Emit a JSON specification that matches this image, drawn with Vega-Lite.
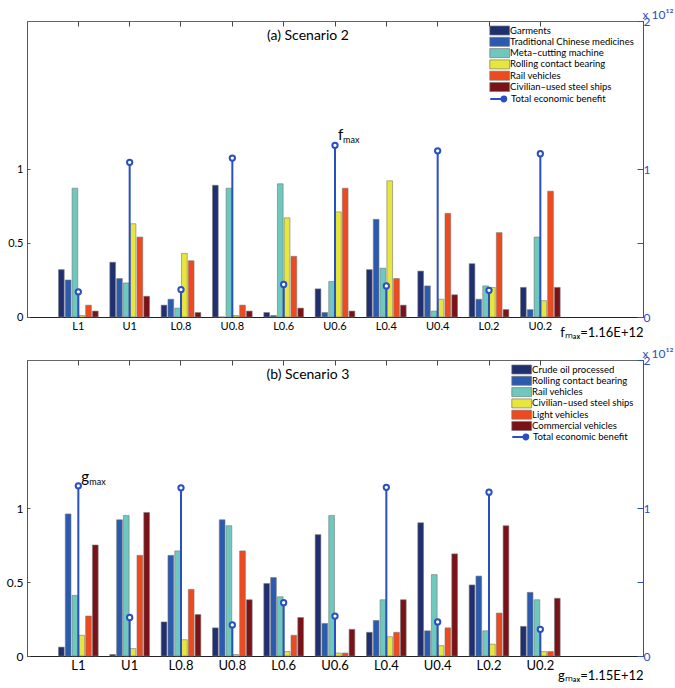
{
  "$schema": "https://vega.github.io/schema/vega-lite/v6.json",
  "background": "white",
  "padding": {"left": 5, "top": 7, "right": 5, "bottom": 3},
  "config": {
    "font": "Lato",
    "view": {"stroke": "#666", "strokeWidth": 1},
    "axis": {"grid": false, "labelFont": "Lato", "labelFontSize": 11, "labelColor": "black", "domainColor": "#555", "tickColor": "#555", "titleFont": "Lato", "titleFontWeight": "normal"},
    "legend": {"labelFont": "Lato", "labelFontSize": 9.5, "labelColor": "black", "padding": 0, "rowPadding": -0.7, "labelOffset": 5.4, "symbolStrokeWidth": 0.7}
  },
  "datasets": {
    "bars2": [
      {"cat": "L1", "series": "Garments", "value": 0.32},
      {"cat": "L1", "series": "Traditional Chinese medicines", "value": 0.25},
      {"cat": "L1", "series": "Meta–cutting machine", "value": 0.87},
      {"cat": "L1", "series": "Rolling contact bearing", "value": 0.01},
      {"cat": "L1", "series": "Rail vehicles", "value": 0.08},
      {"cat": "L1", "series": "Civilian–used steel ships", "value": 0.04},
      {"cat": "U1", "series": "Garments", "value": 0.37},
      {"cat": "U1", "series": "Traditional Chinese medicines", "value": 0.26},
      {"cat": "U1", "series": "Meta–cutting machine", "value": 0.23},
      {"cat": "U1", "series": "Rolling contact bearing", "value": 0.63},
      {"cat": "U1", "series": "Rail vehicles", "value": 0.54},
      {"cat": "U1", "series": "Civilian–used steel ships", "value": 0.14},
      {"cat": "L0.8", "series": "Garments", "value": 0.08},
      {"cat": "L0.8", "series": "Traditional Chinese medicines", "value": 0.12},
      {"cat": "L0.8", "series": "Meta–cutting machine", "value": 0.06},
      {"cat": "L0.8", "series": "Rolling contact bearing", "value": 0.43},
      {"cat": "L0.8", "series": "Rail vehicles", "value": 0.38},
      {"cat": "L0.8", "series": "Civilian–used steel ships", "value": 0.03},
      {"cat": "U0.8", "series": "Garments", "value": 0.89},
      {"cat": "U0.8", "series": "Traditional Chinese medicines", "value": 0},
      {"cat": "U0.8", "series": "Meta–cutting machine", "value": 0.87},
      {"cat": "U0.8", "series": "Rolling contact bearing", "value": 0.01},
      {"cat": "U0.8", "series": "Rail vehicles", "value": 0.08},
      {"cat": "U0.8", "series": "Civilian–used steel ships", "value": 0.04},
      {"cat": "L0.6", "series": "Garments", "value": 0.03},
      {"cat": "L0.6", "series": "Traditional Chinese medicines", "value": 0.01},
      {"cat": "L0.6", "series": "Meta–cutting machine", "value": 0.9},
      {"cat": "L0.6", "series": "Rolling contact bearing", "value": 0.67},
      {"cat": "L0.6", "series": "Rail vehicles", "value": 0.41},
      {"cat": "L0.6", "series": "Civilian–used steel ships", "value": 0.06},
      {"cat": "U0.6", "series": "Garments", "value": 0.19},
      {"cat": "U0.6", "series": "Traditional Chinese medicines", "value": 0.03},
      {"cat": "U0.6", "series": "Meta–cutting machine", "value": 0.24},
      {"cat": "U0.6", "series": "Rolling contact bearing", "value": 0.71},
      {"cat": "U0.6", "series": "Rail vehicles", "value": 0.87},
      {"cat": "U0.6", "series": "Civilian–used steel ships", "value": 0.04},
      {"cat": "L0.4", "series": "Garments", "value": 0.32},
      {"cat": "L0.4", "series": "Traditional Chinese medicines", "value": 0.66},
      {"cat": "L0.4", "series": "Meta–cutting machine", "value": 0.33},
      {"cat": "L0.4", "series": "Rolling contact bearing", "value": 0.92},
      {"cat": "L0.4", "series": "Rail vehicles", "value": 0.26},
      {"cat": "L0.4", "series": "Civilian–used steel ships", "value": 0.08},
      {"cat": "U0.4", "series": "Garments", "value": 0.31},
      {"cat": "U0.4", "series": "Traditional Chinese medicines", "value": 0.21},
      {"cat": "U0.4", "series": "Meta–cutting machine", "value": 0.04},
      {"cat": "U0.4", "series": "Rolling contact bearing", "value": 0.12},
      {"cat": "U0.4", "series": "Rail vehicles", "value": 0.7},
      {"cat": "U0.4", "series": "Civilian–used steel ships", "value": 0.15},
      {"cat": "L0.2", "series": "Garments", "value": 0.36},
      {"cat": "L0.2", "series": "Traditional Chinese medicines", "value": 0.12},
      {"cat": "L0.2", "series": "Meta–cutting machine", "value": 0.21},
      {"cat": "L0.2", "series": "Rolling contact bearing", "value": 0.2},
      {"cat": "L0.2", "series": "Rail vehicles", "value": 0.57},
      {"cat": "L0.2", "series": "Civilian–used steel ships", "value": 0.05},
      {"cat": "U0.2", "series": "Garments", "value": 0.2},
      {"cat": "U0.2", "series": "Traditional Chinese medicines", "value": 0.05},
      {"cat": "U0.2", "series": "Meta–cutting machine", "value": 0.54},
      {"cat": "U0.2", "series": "Rolling contact bearing", "value": 0.11},
      {"cat": "U0.2", "series": "Rail vehicles", "value": 0.85},
      {"cat": "U0.2", "series": "Civilian–used steel ships", "value": 0.2}
    ],
    "tot2": [
      {"cat": "L1", "total": 0.17, "sym": null},
      {"cat": "U1", "total": 1.045, "sym": null},
      {"cat": "L0.8", "total": 0.185, "sym": null},
      {"cat": "U0.8", "total": 1.074, "sym": null},
      {"cat": "L0.6", "total": 0.22, "sym": null},
      {"cat": "U0.6", "total": 1.16, "sym": "f"},
      {"cat": "L0.4", "total": 0.21, "sym": null},
      {"cat": "U0.4", "total": 1.123, "sym": null},
      {"cat": "L0.2", "total": 0.18, "sym": null},
      {"cat": "U0.2", "total": 1.103, "sym": null}
    ],
    "bars3": [
      {"cat": "L1", "series": "Crude oil processed", "value": 0.06},
      {"cat": "L1", "series": "Rolling contact bearing", "value": 0.96},
      {"cat": "L1", "series": "Rail vehicles", "value": 0.41},
      {"cat": "L1", "series": "Civilian–used steel ships", "value": 0.14},
      {"cat": "L1", "series": "Light vehicles", "value": 0.27},
      {"cat": "L1", "series": "Commercial vehicles", "value": 0.75},
      {"cat": "U1", "series": "Crude oil processed", "value": 0.01},
      {"cat": "U1", "series": "Rolling contact bearing", "value": 0.92},
      {"cat": "U1", "series": "Rail vehicles", "value": 0.95},
      {"cat": "U1", "series": "Civilian–used steel ships", "value": 0.05},
      {"cat": "U1", "series": "Light vehicles", "value": 0.68},
      {"cat": "U1", "series": "Commercial vehicles", "value": 0.97},
      {"cat": "L0.8", "series": "Crude oil processed", "value": 0.23},
      {"cat": "L0.8", "series": "Rolling contact bearing", "value": 0.68},
      {"cat": "L0.8", "series": "Rail vehicles", "value": 0.71},
      {"cat": "L0.8", "series": "Civilian–used steel ships", "value": 0.11},
      {"cat": "L0.8", "series": "Light vehicles", "value": 0.45},
      {"cat": "L0.8", "series": "Commercial vehicles", "value": 0.28},
      {"cat": "U0.8", "series": "Crude oil processed", "value": 0.19},
      {"cat": "U0.8", "series": "Rolling contact bearing", "value": 0.92},
      {"cat": "U0.8", "series": "Rail vehicles", "value": 0.88},
      {"cat": "U0.8", "series": "Civilian–used steel ships", "value": 0.01},
      {"cat": "U0.8", "series": "Light vehicles", "value": 0.71},
      {"cat": "U0.8", "series": "Commercial vehicles", "value": 0.38},
      {"cat": "L0.6", "series": "Crude oil processed", "value": 0.49},
      {"cat": "L0.6", "series": "Rolling contact bearing", "value": 0.53},
      {"cat": "L0.6", "series": "Rail vehicles", "value": 0.4},
      {"cat": "L0.6", "series": "Civilian–used steel ships", "value": 0.03},
      {"cat": "L0.6", "series": "Light vehicles", "value": 0.14},
      {"cat": "L0.6", "series": "Commercial vehicles", "value": 0.26},
      {"cat": "U0.6", "series": "Crude oil processed", "value": 0.82},
      {"cat": "U0.6", "series": "Rolling contact bearing", "value": 0.22},
      {"cat": "U0.6", "series": "Rail vehicles", "value": 0.95},
      {"cat": "U0.6", "series": "Civilian–used steel ships", "value": 0.02},
      {"cat": "U0.6", "series": "Light vehicles", "value": 0.02},
      {"cat": "U0.6", "series": "Commercial vehicles", "value": 0.18},
      {"cat": "L0.4", "series": "Crude oil processed", "value": 0.16},
      {"cat": "L0.4", "series": "Rolling contact bearing", "value": 0.24},
      {"cat": "L0.4", "series": "Rail vehicles", "value": 0.38},
      {"cat": "L0.4", "series": "Civilian–used steel ships", "value": 0.13},
      {"cat": "L0.4", "series": "Light vehicles", "value": 0.16},
      {"cat": "L0.4", "series": "Commercial vehicles", "value": 0.38},
      {"cat": "U0.4", "series": "Crude oil processed", "value": 0.9},
      {"cat": "U0.4", "series": "Rolling contact bearing", "value": 0.17},
      {"cat": "U0.4", "series": "Rail vehicles", "value": 0.55},
      {"cat": "U0.4", "series": "Civilian–used steel ships", "value": 0.07},
      {"cat": "U0.4", "series": "Light vehicles", "value": 0.19},
      {"cat": "U0.4", "series": "Commercial vehicles", "value": 0.69},
      {"cat": "L0.2", "series": "Crude oil processed", "value": 0.48},
      {"cat": "L0.2", "series": "Rolling contact bearing", "value": 0.54},
      {"cat": "L0.2", "series": "Rail vehicles", "value": 0.17},
      {"cat": "L0.2", "series": "Civilian–used steel ships", "value": 0.08},
      {"cat": "L0.2", "series": "Light vehicles", "value": 0.29},
      {"cat": "L0.2", "series": "Commercial vehicles", "value": 0.88},
      {"cat": "U0.2", "series": "Crude oil processed", "value": 0.2},
      {"cat": "U0.2", "series": "Rolling contact bearing", "value": 0.43},
      {"cat": "U0.2", "series": "Rail vehicles", "value": 0.38},
      {"cat": "U0.2", "series": "Civilian–used steel ships", "value": 0.03},
      {"cat": "U0.2", "series": "Light vehicles", "value": 0.03},
      {"cat": "U0.2", "series": "Commercial vehicles", "value": 0.39}
    ],
    "tot3": [
      {"cat": "L1", "total": 1.15, "sym": "g"},
      {"cat": "U1", "total": 0.26, "sym": null},
      {"cat": "L0.8", "total": 1.136, "sym": null},
      {"cat": "U0.8", "total": 0.21, "sym": null},
      {"cat": "L0.6", "total": 0.36, "sym": null},
      {"cat": "U0.6", "total": 0.27, "sym": null},
      {"cat": "L0.4", "total": 1.14, "sym": null},
      {"cat": "U0.4", "total": 0.23, "sym": null},
      {"cat": "L0.2", "total": 1.107, "sym": null},
      {"cat": "U0.2", "total": 0.18, "sym": null}
    ]
  },
  "vconcat": [
    {
      "width": 616,
      "height": 296,
      "title": {"text": "(a) Scenario 2", "offset": -46, "dx": -27, "fontSize": 14, "fontWeight": "normal", "font": "Lato", "anchor": "middle", "baseline": "alphabetic", "color": "black"},
      "layer": [
        {
          "data": {"name": "bars2"},
          "mark": {"type": "bar", "stroke": "#777", "strokeWidth": 0.6},
          "encoding": {
            "x": {"field": "cat", "type": "nominal", "sort": null,
              "scale": {"domain": ["L1", "U1", "L0.8", "U0.8", "L0.6", "U0.6", "L0.4", "U0.4", "L0.2", "U0.2"], "paddingInner": 0, "paddingOuter": 1, "align": 0.25},
              "axis": {"orient": "bottom", "title": "fₘₐₓ=1.16E+12", "titleAnchor": "end", "titleFontSize": 13, "titleColor": "black", "titlePadding": -5, "labelAngle": 0, "tickSize": -4, "labelPadding": 7, "domainColor": "#222"}},
            "xOffset": {"field": "series", "type": "nominal", "sort": null,
              "scale": {"domain": ["Garments", "Traditional Chinese medicines", "Meta–cutting machine", "Rolling contact bearing", "Rail vehicles", "Civilian–used steel ships"], "paddingInner": 0.16, "paddingOuter": 0.86}},
            "y": {"field": "value", "type": "quantitative", "scale": {"domain": [0, 2], "nice": false},
              "axis": {"orient": "left", "values": [0, 0.5, 1], "format": "~g", "title": null, "tickSize": -3, "labelPadding": 7}},
            "fill": {"field": "series", "type": "nominal",
              "scale": {"domain": ["Garments", "Traditional Chinese medicines", "Meta–cutting machine", "Rolling contact bearing", "Rail vehicles", "Civilian–used steel ships"],
                "range": ["#1f2f6f", "#2b5bae", "#6fc8bd", "#e6e63c", "#ef4a1e", "#7a1218"]},
              "legend": {"title": null, "orient": "none", "legendX": 467.7, "legendY": 4.5, "symbolType": "M-2.2,-1H2.2V1H-2.2Z", "symbolSize": 81, "symbolStrokeColor": "#777"}}
          }
        },
        {
          "data": {"name": "tot2"},
          "layer": [
            {
              "mark": {"type": "rule", "strokeWidth": 2},
              "encoding": {
                "x": {"field": "cat", "type": "nominal", "sort": null, "axis": {"orient": "top", "labels": false, "title": null, "tickSize": -5, "tickColor": "#444", "domain": false}},
                "y": {"field": "total", "type": "quantitative", "scale": {"domain": [0, 2], "nice": false},
                  "axis": {"orient": "right", "values": [0, 0.5, 1, 2], "labelExpr": "datum.value == 0.5 ? '' : datum.label", "format": "~g", "labelColor": "#2a4fc0", "labelFontSize": 12, "domainColor": "#2a4fc0", "tickColor": "#2a4fc0", "tickSize": -6, "labelPadding": 6,
                    "title": "x 10¹²", "titleColor": "#2a4fc0", "titleFontSize": 12, "titleAngle": 0, "titleAlign": "left", "titleBaseline": "alphabetic", "titleX": -1, "titleY": -3}},
                "y2": {"datum": 0},
                "stroke": {"datum": "Total economic benefit", "scale": {"range": ["#2a4fc0"]},
                  "legend": {"title": null, "orient": "none", "legendX": 467.7, "legendY": 72.5, "symbolType": "M-2.2,0H0.8M0.8,-0.55A0.55,0.55 0 1 1 0.8,0.55A0.55,0.55 0 1 1 0.8,-0.55Z", "symbolSize": 81, "symbolStrokeWidth": 2, "symbolFillColor": "#2a4fc0"}}
              }
            },
            {
              "mark": {"type": "point", "shape": "circle", "filled": false, "stroke": "#2a4fc0", "strokeWidth": 2, "size": 28, "fill": "white", "fillOpacity": 1},
              "encoding": {
                "x": {"field": "cat", "type": "nominal", "sort": null},
                "y": {"field": "total", "type": "quantitative"}
              }
            },
            {
              "transform": [{"filter": "datum.sym != null"}],
              "mark": {"type": "text", "align": "left", "baseline": "alphabetic", "dx": 3, "dy": -5, "fontSize": 15, "font": "Lato", "color": "black"},
              "encoding": {
                "x": {"field": "cat", "type": "nominal", "sort": null},
                "y": {"field": "total", "type": "quantitative"},
                "text": {"field": "sym"}
              }
            },
            {
              "transform": [{"filter": "datum.sym != null"}],
              "mark": {"type": "text", "align": "left", "baseline": "alphabetic", "dx": 8, "dy": -2, "fontSize": 9, "font": "Lato", "color": "black", "text": "max"},
              "encoding": {
                "x": {"field": "cat", "type": "nominal", "sort": null},
                "y": {"field": "total", "type": "quantitative"}
              }
            }
          ]
        }
      ],
      "resolve": {"scale": {"y": "independent"}, "axis": {"x": "independent"}}
    },
    {
      "width": 616,
      "height": 296,
      "title": {"text": "(b) Scenario 3", "offset": -46, "dx": -27, "fontSize": 14, "fontWeight": "normal", "font": "Lato", "anchor": "middle", "baseline": "alphabetic", "color": "black"},
      "layer": [
        {
          "data": {"name": "bars3"},
          "mark": {"type": "bar", "stroke": "#777", "strokeWidth": 0.6},
          "encoding": {
            "x": {"field": "cat", "type": "nominal", "sort": null,
              "scale": {"domain": ["L1", "U1", "L0.8", "U0.8", "L0.6", "U0.6", "L0.4", "U0.4", "L0.2", "U0.2"], "paddingInner": 0, "paddingOuter": 1, "align": 0.25},
              "axis": {"orient": "bottom", "title": "gₘₐₓ=1.15E+12", "titleAnchor": "end", "titleFontSize": 13, "titleColor": "black", "titlePadding": -3, "labelAngle": 0, "labelFontSize": 13, "tickSize": -4, "labelPadding": 7, "domainColor": "#222"}},
            "xOffset": {"field": "series", "type": "nominal", "sort": null,
              "scale": {"domain": ["Crude oil processed", "Rolling contact bearing", "Rail vehicles", "Civilian–used steel ships", "Light vehicles", "Commercial vehicles"], "paddingInner": 0.16, "paddingOuter": 0.86}},
            "y": {"field": "value", "type": "quantitative", "scale": {"domain": [0, 2], "nice": false},
              "axis": {"orient": "left", "values": [0, 0.5, 1], "format": "~g", "title": null, "tickSize": -3, "labelPadding": 7, "labelFontSize": 12}},
            "fill": {"field": "series", "type": "nominal",
              "scale": {"domain": ["Crude oil processed", "Rolling contact bearing", "Rail vehicles", "Civilian–used steel ships", "Light vehicles", "Commercial vehicles"],
                "range": ["#1f2f6f", "#2b5bae", "#6fc8bd", "#e6e63c", "#ef4a1e", "#7a1218"]},
              "legend": {"title": null, "orient": "none", "legendX": 489.7, "legendY": 4.5, "symbolType": "M-2.2,-1H2.2V1H-2.2Z", "symbolSize": 81, "symbolStrokeColor": "#777"}}
          }
        },
        {
          "data": {"name": "tot3"},
          "layer": [
            {
              "mark": {"type": "rule", "strokeWidth": 2},
              "encoding": {
                "x": {"field": "cat", "type": "nominal", "sort": null, "axis": {"orient": "top", "labels": false, "title": null, "tickSize": -5, "tickColor": "#444", "domain": false}},
                "y": {"field": "total", "type": "quantitative", "scale": {"domain": [0, 2], "nice": false},
                  "axis": {"orient": "right", "values": [0, 0.5, 1, 2], "labelExpr": "datum.value == 0.5 ? '' : datum.label", "format": "~g", "labelColor": "#2a4fc0", "labelFontSize": 12, "domainColor": "#2a4fc0", "tickColor": "#2a4fc0", "tickSize": -6, "labelPadding": 6,
                    "title": "x 10¹²", "titleColor": "#2a4fc0", "titleFontSize": 12, "titleAngle": 0, "titleAlign": "left", "titleBaseline": "alphabetic", "titleX": -1, "titleY": -3}},
                "y2": {"datum": 0},
                "stroke": {"datum": "Total economic benefit", "scale": {"range": ["#2a4fc0"]},
                  "legend": {"title": null, "orient": "none", "legendX": 489.7, "legendY": 71.5, "symbolType": "M-2.2,0H0.8M0.8,-0.55A0.55,0.55 0 1 1 0.8,0.55A0.55,0.55 0 1 1 0.8,-0.55Z", "symbolSize": 81, "symbolStrokeWidth": 2, "symbolFillColor": "#2a4fc0"}}
              }
            },
            {
              "mark": {"type": "point", "shape": "circle", "filled": false, "stroke": "#2a4fc0", "strokeWidth": 2, "size": 28, "fill": "white", "fillOpacity": 1},
              "encoding": {
                "x": {"field": "cat", "type": "nominal", "sort": null},
                "y": {"field": "total", "type": "quantitative"}
              }
            },
            {
              "transform": [{"filter": "datum.sym != null"}],
              "mark": {"type": "text", "align": "left", "baseline": "alphabetic", "dx": 3, "dy": -4, "fontSize": 15, "font": "Lato", "color": "black"},
              "encoding": {
                "x": {"field": "cat", "type": "nominal", "sort": null},
                "y": {"field": "total", "type": "quantitative"},
                "text": {"field": "sym"}
              }
            },
            {
              "transform": [{"filter": "datum.sym != null"}],
              "mark": {"type": "text", "align": "left", "baseline": "alphabetic", "dx": 11, "dy": -1, "fontSize": 9, "font": "Lato", "color": "black", "text": "max"},
              "encoding": {
                "x": {"field": "cat", "type": "nominal", "sort": null},
                "y": {"field": "total", "type": "quantitative"}
              }
            }
          ]
        }
      ],
      "resolve": {"scale": {"y": "independent"}, "axis": {"x": "independent"}}
    }
  ],
  "spacing": 6,
  "resolve": {"scale": {"fill": "independent", "stroke": "independent", "xOffset": "independent"}}
}
